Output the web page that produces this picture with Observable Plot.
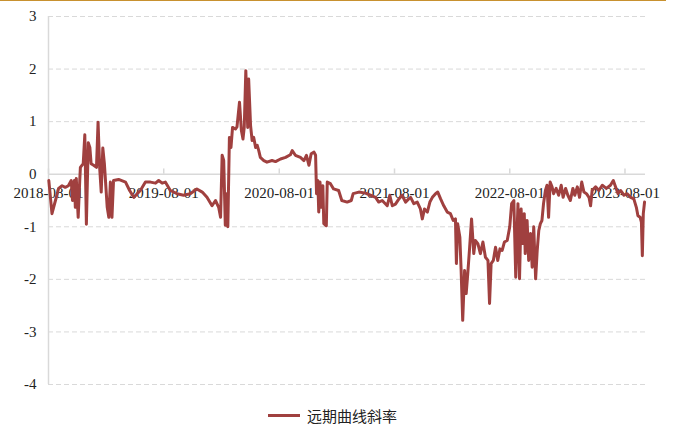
<!DOCTYPE html>
<html>
<head>
<meta charset="utf-8">
<script src="https://cdn.jsdelivr.net/npm/d3@7"></script>
<script src="https://cdn.jsdelivr.net/npm/@observablehq/plot@0.6"></script>
<style>
  html, body { margin: 0; padding: 0; background: #fff; }
  #wrap { position: relative; width: 676px; height: 425px; overflow: hidden; }
  #topline { position: absolute; left: 0; top: 0; width: 666px; height: 1px; background: #c8912f; }
  #chart { position: absolute; left: 0; top: 0; }
  #legend { position: absolute; left: 268px; top: 404px; height: 22px; display: flex; align-items: center;
            font-family: "Noto Sans CJK SC", sans-serif; font-size: 15px; color: #222; }
  #legend .swatch { width: 32px; height: 3px; background: #a0403f; margin-right: 7px; }
</style>
</head>
<body>
<div id="wrap">
  <div id="topline"></div>
  <div id="chart"></div>
  <div id="legend"><span class="swatch"></span><span>远期曲线斜率</span></div>
</div>
<script>
// Forward curve slope, by year: [date, value]
const slope2018 = [
  ["2018-08-02", -0.12], ["2018-08-12", -0.75], ["2018-08-23", -0.5], ["2018-09-02", -0.27],
  ["2018-09-13", -0.22], ["2018-09-23", -0.25], ["2018-10-03", -0.22], ["2018-10-12", -0.12],
  ["2018-10-16", -0.5], ["2018-10-22", -0.12], ["2018-10-25", -0.63], ["2018-10-28", -0.08],
  ["2018-11-03", -0.82], ["2018-11-08", -0.12], ["2018-11-10", 0.13], ["2018-11-19", 0.2],
  ["2018-11-24", 0.75], ["2018-11-29", -0.95], ["2018-12-05", 0.6], ["2018-12-10", 0.51],
  ["2018-12-14", 0.2], ["2018-12-22", 0.17], ["2018-12-31", 0.13]
];
const slope2019 = [
  ["2019-01-05", 0.99], ["2019-01-10", 0.13], ["2019-01-15", -0.34], ["2019-01-20", 0.5],
  ["2019-01-25", 0.2], ["2019-02-03", -0.63], ["2019-02-08", -0.82], ["2019-02-13", -0.15],
  ["2019-02-18", -0.82], ["2019-02-23", -0.12], ["2019-03-11", -0.1], ["2019-04-02", -0.15],
  ["2019-04-15", -0.31], ["2019-04-28", -0.44], ["2019-05-09", -0.37], ["2019-05-19", -0.31],
  ["2019-06-04", -0.15], ["2019-06-20", -0.15], ["2019-07-06", -0.17], ["2019-07-16", -0.12],
  ["2019-07-27", -0.17], ["2019-08-06", -0.15], ["2019-08-22", -0.31], ["2019-09-12", -0.37],
  ["2019-10-03", -0.4], ["2019-10-24", -0.37], ["2019-11-14", -0.28], ["2019-12-01", -0.34],
  ["2019-12-16", -0.44]
];
const slope2020 = [
  ["2020-01-01", -0.6], ["2020-01-12", -0.5], ["2020-01-22", -0.63], ["2020-01-28", -0.82],
  ["2020-02-02", 0.36], ["2020-02-07", 0.26], ["2020-02-12", -0.97], ["2020-02-17", -0.37],
  ["2020-02-20", -1.0], ["2020-02-25", 0.7], ["2020-03-01", 0.51], ["2020-03-06", 0.89],
  ["2020-03-15", 0.86], ["2020-03-20", 0.9], ["2020-03-28", 1.37], ["2020-04-03", 0.83],
  ["2020-04-08", 0.67], ["2020-04-12", 0.89], ["2020-04-17", 1.97], ["2020-04-23", 0.89],
  ["2020-04-26", 1.81], ["2020-05-02", 0.93], ["2020-05-07", 0.64], ["2020-05-12", 0.7],
  ["2020-05-18", 0.51], ["2020-05-23", 0.55], ["2020-05-28", 0.45], ["2020-06-02", 0.32],
  ["2020-06-13", 0.26], ["2020-06-23", 0.23], ["2020-07-09", 0.26], ["2020-07-20", 0.24],
  ["2020-08-05", 0.29], ["2020-08-21", 0.32], ["2020-09-05", 0.37], ["2020-09-11", 0.45],
  ["2020-09-21", 0.36], ["2020-10-07", 0.32], ["2020-10-18", 0.26], ["2020-10-26", 0.36],
  ["2020-11-03", 0.17], ["2020-11-10", 0.39], ["2020-11-19", 0.42], ["2020-11-24", 0.36],
  ["2020-11-27", -0.37], ["2020-12-01", -0.12], ["2020-12-04", -0.72], ["2020-12-08", -0.15],
  ["2020-12-12", -0.63], ["2020-12-17", -0.22], ["2020-12-20", -0.94], ["2020-12-28", -0.98],
  ["2020-12-31", -0.15]
];
const slope2021 = [
  ["2021-01-10", -0.18], ["2021-01-20", -0.28], ["2021-02-05", -0.31], ["2021-02-15", -0.5],
  ["2021-03-04", -0.53], ["2021-03-17", -0.5], ["2021-03-23", -0.37], ["2021-04-10", -0.34],
  ["2021-05-01", -0.36], ["2021-05-17", -0.4], ["2021-06-02", -0.44], ["2021-06-12", -0.53],
  ["2021-06-23", -0.5], ["2021-07-09", -0.6], ["2021-07-17", -0.4], ["2021-07-25", -0.6],
  ["2021-08-04", -0.57], ["2021-08-15", -0.47], ["2021-08-25", -0.4], ["2021-09-05", -0.53],
  ["2021-09-15", -0.47], ["2021-09-21", -0.44], ["2021-10-01", -0.56], ["2021-10-12", -0.53],
  ["2021-10-22", -0.66], ["2021-10-28", -0.85], ["2021-11-04", -0.66], ["2021-11-13", -0.72],
  ["2021-11-21", -0.53], ["2021-11-29", -0.44], ["2021-12-09", -0.37], ["2021-12-16", -0.34],
  ["2021-12-25", -0.47]
];
const slope2022 = [
  ["2022-01-04", -0.6], ["2022-01-15", -0.72], ["2022-01-25", -0.75], ["2022-02-03", -0.88],
  ["2022-02-10", -0.85], ["2022-02-13", -1.7], ["2022-02-17", -0.94], ["2022-02-24", -1.2],
  ["2022-02-28", -1.83], ["2022-03-05", -2.78], ["2022-03-11", -1.83], ["2022-03-16", -2.27],
  ["2022-03-21", -1.89], ["2022-03-27", -1.39], ["2022-04-02", -0.85], ["2022-04-09", -1.51],
  ["2022-04-14", -1.26], ["2022-04-22", -1.32], ["2022-04-30", -1.51], ["2022-05-08", -1.29],
  ["2022-05-16", -1.58], ["2022-05-24", -1.64], ["2022-05-29", -2.46], ["2022-06-03", -1.7],
  ["2022-06-10", -1.64], ["2022-06-17", -1.39], ["2022-06-24", -1.64], ["2022-07-01", -1.42],
  ["2022-07-08", -1.45], ["2022-07-15", -1.29], ["2022-07-24", -1.26], ["2022-08-01", -1.0],
  ["2022-08-07", -0.56], ["2022-08-14", -0.5], ["2022-08-20", -1.96], ["2022-08-27", -0.56],
  ["2022-09-01", -1.99], ["2022-09-06", -0.66], ["2022-09-11", -1.32], ["2022-09-16", -0.75],
  ["2022-09-19", -1.51], ["2022-09-25", -0.88], ["2022-09-30", -1.64], ["2022-10-06", -1.13],
  ["2022-10-11", -1.77], ["2022-10-16", -1.0], ["2022-10-22", -1.99], ["2022-10-27", -1.45],
  ["2022-11-01", -1.07], ["2022-11-06", -0.94], ["2022-11-11", -0.88], ["2022-11-16", -0.56],
  ["2022-11-22", -0.31], ["2022-11-27", -0.21], ["2022-12-02", -0.82], ["2022-12-07", -0.15],
  ["2022-12-13", -0.24], ["2022-12-18", -0.37], ["2022-12-26", -0.27]
];
const slope2023 = [
  ["2023-01-03", -0.4], ["2023-01-11", -0.21], ["2023-01-17", -0.44], ["2023-01-25", -0.27],
  ["2023-02-01", -0.4], ["2023-02-09", -0.5], ["2023-02-17", -0.27], ["2023-02-23", -0.4],
  ["2023-03-03", -0.24], ["2023-03-10", -0.44], ["2023-03-17", -0.15], ["2023-03-24", -0.34],
  ["2023-04-01", -0.37], ["2023-04-09", -0.44], ["2023-04-14", -0.6], ["2023-04-19", -0.31],
  ["2023-04-30", -0.24], ["2023-05-10", -0.31], ["2023-05-21", -0.21], ["2023-06-03", -0.27],
  ["2023-06-16", -0.21], ["2023-06-25", -0.12], ["2023-07-02", -0.24], ["2023-07-10", -0.37],
  ["2023-07-18", -0.31], ["2023-07-29", -0.4], ["2023-08-08", -0.37], ["2023-08-19", -0.44],
  ["2023-08-29", -0.47], ["2023-09-06", -0.63], ["2023-09-11", -0.79], ["2023-09-18", -0.82],
  ["2023-09-22", -0.91], ["2023-09-25", -1.55], ["2023-09-28", -0.75], ["2023-10-02", -0.53]
];

// Axis ticks
const xTickLabels = ["2018-08-01", "2019-08-01", "2020-08-01", "2021-08-01", "2022-08-01", "2023-08-01"];
const yTicks = [-4, -3, -2, -1, 0, 1, 2, 3];
const xStart = "2018-08-01";
const xEnd = "2023-10-05";

const series = [...slope2018, ...slope2019, ...slope2020, ...slope2021, ...slope2022, ...slope2023]
  .map(([d, v]) => ({date: new Date(d), value: v}));
const xTicks = xTickLabels.map(d => new Date(d));

const gridColor = "#d9d9d9";
const lineColor = "#a0403f";
const serif = "'Liberation Serif', 'Times New Roman', serif";

const chart = Plot.plot({
  width: 676,
  height: 400,
  marginLeft: 48,
  marginRight: 31,
  marginTop: 16,
  marginBottom: 16,
  style: {fontFamily: serif, fontSize: "15px", color: "#222", background: "transparent"},
  x: {type: "utc", domain: [new Date(xStart), new Date(xEnd)], axis: null},
  y: {domain: [-4, 3], axis: null, label: null},
  marks: [
    // dashed horizontal grid
    Plot.ruleY(yTicks.filter(t => t !== 0), {stroke: gridColor, strokeWidth: 1, strokeDasharray: "5,3"}),
    // zero line and vertical axis line
    Plot.ruleY([0], {stroke: gridColor, strokeWidth: 1.5}),
    Plot.ruleX([new Date(xStart)], {y1: -4, y2: 3, stroke: gridColor, strokeWidth: 1.5}),
    // small upward tick marks on the zero line
    Plot.ruleX(xTicks, {x: d => d, y1: 0, y2: 0.1, stroke: gridColor, strokeWidth: 1.5}),
    // y axis labels
    Plot.axisY({ticks: yTicks, tickSize: 0, tickPadding: 12, tickFormat: d => String(d), label: null,
                fill: "#222", fontSize: 15, fontFamily: serif}),
    // date labels sitting just below the zero line
    Plot.text(xTicks, {x: d => d, y: 0, dy: 19, text: (d, i) => xTickLabels[i], fill: "#222", fontSize: 15, fontFamily: serif}),
    Plot.lineY(series, {x: "date", y: "value", stroke: lineColor, strokeWidth: 3, strokeLinejoin: "round"})
  ]
});
document.getElementById("chart").appendChild(chart);
</script>
</body>
</html>
